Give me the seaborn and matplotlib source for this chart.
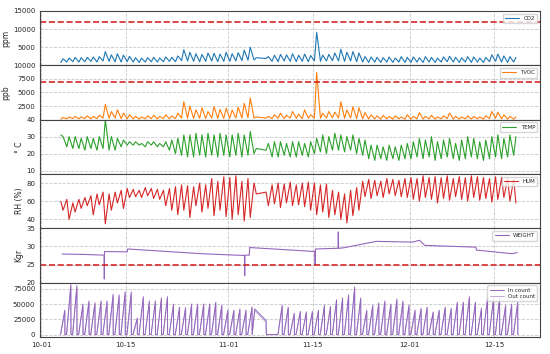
import matplotlib
matplotlib.use('Agg')
import matplotlib.pyplot as plt
import matplotlib.dates as mdates
import numpy as np
import pandas as pd
import seaborn as sns

# days with sensor data (Nov 6 missing -> straight line across the gap)
oct_days = pd.date_range('2019-10-04', '2019-10-31')
nov_days = [d for d in pd.date_range('2019-11-01', '2019-11-30') if d != pd.Timestamp('2019-11-06')]
dec_days = pd.date_range('2019-12-01', '2019-12-18')
days = list(oct_days) + list(nov_days) + list(dec_days)

# CO2 (ppm): morning low / afternoon high, Oct | Nov 1-5 | Nov 7-30 | Dec
co2_low = ([800, 900, 1000, 900, 1000, 1100, 900, 1200, 1100, 1000, 900, 1000, 900, 800,
            900, 1000, 900, 1000, 1100, 1000, 1300, 1200, 1100, 1000, 1100, 1200, 1000, 1100]
           + [1100, 1200, 1300, 1400, 1500]
           + [1900, 1100, 1000, 1200, 1100, 1000, 1100, 1000, 1200, 1100, 1200, 1300,
              1200, 1100, 1200, 1000, 900, 800, 900, 800, 900, 800, 900, 800]
           + [800, 900, 800, 900, 800, 900, 1000, 900, 800, 900, 800, 900, 800, 1000, 1100, 900, 800, 900])
co2_high = ([1800, 2000, 2200, 2100, 2200, 2300, 2400, 3800, 2900, 3200, 2800, 2500, 2100, 2000,
             2100, 2200, 2000, 2300, 2200, 2600, 4300, 3600, 3200, 3000, 3400, 3300, 3100, 3600]
            + [3200, 3500, 4200, 5000, 2100]
            + [2400, 2800, 3000, 2900, 3200, 2800, 3100, 2700, 9100, 2800, 3000, 3400,
               4400, 3600, 3800, 3400, 2400, 2300, 2200, 2100, 2300, 2000, 2400, 2200]
            + [2300, 2100, 2400, 2200, 2000, 2300, 2500, 2200, 2100, 2400, 2300, 2000, 2200, 2900, 3100, 2600, 2400, 2200])

# TVOC (ppb)
tvoc_low = ([100, 150, 200, 150, 200, 150, 200, 300, 250, 300, 200, 150, 150, 100,
             150, 200, 150, 200, 150, 200, 300, 250, 200, 250, 200, 300, 250, 200]
            + [250, 300, 300, 350, 300]
            + [300, 200, 250, 200, 300, 250, 200, 250, 300, 250, 300, 350,
               300, 250, 300, 200, 150, 100, 150, 100, 150, 100, 150, 100]
            + [100, 150, 100, 150, 100, 150, 200, 100, 100, 150, 100, 150, 100, 200, 250, 150, 100, 100])
tvoc_high = ([400, 500, 600, 500, 700, 600, 800, 2800, 1500, 1800, 1200, 900, 600, 500,
              700, 800, 600, 900, 700, 1200, 3300, 2500, 1800, 2200, 1500, 2400, 1900, 2100]
             + [1800, 2300, 3000, 4000, 500]
             + [600, 900, 1200, 800, 1500, 1000, 1800, 900, 8700, 1200, 1500, 1400,
                3300, 1800, 2400, 2200, 1300, 900, 700, 800, 600, 700, 500, 900]
             + [600, 1300, 600, 800, 500, 700, 1200, 600, 500, 700, 600, 500, 700, 1500, 1400, 900, 600, 500])

# TEMP (deg C)
temp_morning = ([31, 24, 23, 23, 22, 23, 22, 23, 22, 22, 24, 25, 25, 25,
                 24, 25, 24, 24, 22, 20, 19, 18, 18, 19, 18, 19, 18, 19]
                + [18, 19, 18, 19, 20]
                + [22, 18, 18, 19, 18, 18, 19, 18, 20, 21, 20, 22,
                   22, 21, 22, 20, 19, 17, 16, 17, 16, 17, 16, 17]
                + [17, 18, 17, 18, 16, 17, 18, 17, 16, 17, 18, 17, 16, 17, 18, 17, 18, 19])
temp_afternoon = ([30, 30, 30, 29, 30, 29, 30, 40, 30, 29, 28, 27, 27, 26,
                   27, 27, 26, 27, 28, 29, 31, 31, 32, 31, 32, 31, 32, 31]
                  + [31, 32, 31, 33, 23]
                  + [26, 27, 27, 26, 27, 27, 26, 27, 29, 31, 30, 32,
                     31, 30, 31, 29, 28, 25, 25, 24, 25, 24, 25, 26]
                  + [27, 29, 28, 30, 27, 28, 29, 26, 28, 30, 29, 27, 28, 30, 31, 29, 31, 30])

# HUM (RH %)
hum_morning = ([60, 62, 58, 62, 64, 66, 68, 70, 68, 70, 72, 74, 73, 72,
                75, 74, 73, 72, 74, 76, 78, 77, 76, 80, 78, 85, 82, 87]
               + [86, 88, 82, 85, 80]
               + [70, 78, 80, 79, 81, 78, 80, 81, 80, 78, 79, 72,
                  70, 68, 72, 75, 82, 84, 83, 82, 85, 84, 83, 85]
               + [86, 85, 88, 86, 87, 86, 88, 85, 87, 86, 88, 87, 86, 85, 87, 86, 85, 84])
hum_afternoon = ([50, 40, 48, 52, 55, 45, 56, 35, 50, 58, 52, 64, 65, 64,
                  66, 63, 62, 55, 50, 45, 50, 42, 55, 48, 52, 44, 50, 43]
                 + [40, 45, 38, 42, 68]
                 + [55, 57, 53, 58, 55, 56, 54, 50, 45, 48, 42, 45,
                    40, 36, 44, 50, 65, 63, 66, 64, 68, 66, 65, 64]
                 + [62, 60, 64, 62, 58, 63, 61, 65, 62, 60, 64, 61, 63, 59, 62, 64, 60, 58])

# WEIGHT (Kgr) breakpoints
weight_times = ['2019-10-04 12:00', '2019-10-08 00:00', '2019-10-11 10:00', '2019-10-11 11:00',
                '2019-10-11 12:00', '2019-10-15 06:00', '2019-10-15 08:00', '2019-10-27 12:00',
                '2019-11-03 16:00', '2019-11-03 17:00', '2019-11-03 18:00', '2019-11-04 11:00',
                '2019-11-04 13:00', '2019-11-15 08:00', '2019-11-15 09:00', '2019-11-15 10:00',
                '2019-11-19 04:00', '2019-11-19 05:00', '2019-11-19 06:00', '2019-11-20 00:00',
                '2019-11-25 12:00', '2019-12-01 12:00', '2019-12-02 16:00', '2019-12-03 12:00',
                '2019-12-12 00:00', '2019-12-12 02:00', '2019-12-18 00:00', '2019-12-18 20:00']
weight_vals = [27.9, 27.8, 27.6, 21.0, 28.6, 28.5, 29.3, 28.0, 27.5, 22.0, 27.6, 27.6,
               29.7, 28.6, 25.0, 29.3, 29.5, 34.0, 29.5, 29.6, 31.4, 31.2, 31.7, 30.3,
               29.8, 29.0, 28.0, 28.3]

# people counter: daily peak (counter resets each night)
count_days = (list(pd.date_range('2019-10-04', '2019-11-04'))
              + list(pd.date_range('2019-11-09', '2019-12-18')))
in_peaks = ([40000, 82000, 80000, 50000, 55000, 52000, 55000, 55000, 66000, 65000, 70000, 70000, 27000, 62000,
             55000, 55000, 60000, 62000, 50000, 45000, 44000, 50000, 50000, 50000, 50000, 53000, 48000, 40000]
            + [40000, 42000, 40000, 45000]
            + [48000, 45000, 35000, 38000, 37000, 38000, 40000, 48000, 46000, 57000, 60000,
               65000, 78000, 60000, 40000, 48000, 52000, 55000, 50000, 58000, 55000, 48000]
            + [40000, 43000, 45000, 37000, 40000, 45000, 43000, 53000, 53000, 62000, 53000,
               43000, 60000, 60000, 60000, 48000, 50000, 53000])
out_peaks = ([38000, 78000, 77000, 48000, 52000, 50000, 53000, 52000, 63000, 62000, 67000, 66000, 25000, 59000,
              52000, 53000, 57000, 59000, 48000, 43000, 42000, 47000, 48000, 47000, 48000, 50000, 46000, 38000]
             + [38000, 40000, 38000, 43000]
             + [46000, 43000, 33000, 36000, 35000, 36000, 38000, 46000, 44000, 54000, 57000,
                62000, 74000, 57000, 38000, 46000, 49000, 52000, 48000, 55000, 52000, 46000]
             + [38000, 41000, 43000, 35000, 38000, 43000, 41000, 50000, 51000, 59000, 50000,
                41000, 57000, 57000, 57000, 46000, 48000, 50000])
# counter kept running through the outage
gap_times = ['2019-11-05 09:00', '2019-11-07 06:00', '2019-11-07 07:00']
gap_in = [42000, 23000, 0]
gap_out = [39000, 20000, 0]

CO2_LIMIT = 12000
TVOC_LIMIT = 7000
WEIGHT_LIMIT = 25


def daily_frame(first, second):
    t = [d + pd.Timedelta(hours=6) for d in days] + [d + pd.Timedelta(hours=15) for d in days]
    return pd.DataFrame({'time': t, 'value': list(first) + list(second)}).sort_values('time')


def count_frame(peaks, g_vals, name):
    t, v = [], []
    for d, p in zip(count_days, peaks):
        t += [d + pd.Timedelta(hours=5), d + pd.Timedelta(hours=22), d + pd.Timedelta(hours=22, minutes=30)]
        v += [0, p, 0]
    t += list(pd.to_datetime(gap_times))
    v += g_vals
    df = pd.DataFrame({'time': t, 'value': v, 'series': name})
    return df.sort_values('time')


sns.set_style('white')
plt.rcParams['font.family'] = ['DejaVu Sans']

fig, axes = plt.subplots(6, 1, sharex=True, figsize=(5.5, 3.54), dpi=100)
fig.subplots_adjust(left=0.073, right=0.982, top=0.969, bottom=0.048, hspace=0)

panels = [
    (daily_frame(co2_low, co2_high), 'CO2', '#1f77b4', 'ppm', (0, 15000), [5000, 10000, 15000], CO2_LIMIT),
    (daily_frame(tvoc_low, tvoc_high), 'TVOC', '#ff7f0e', 'ppb', (0, 10000), [2500, 5000, 7500, 10000], TVOC_LIMIT),
    (daily_frame(temp_morning, temp_afternoon), 'TEMP', '#2ca02c', '° C', (8, 40), [10, 20, 30, 40], None),
    (daily_frame(hum_morning, hum_afternoon), 'HUM', '#d62728', 'RH (%)', (30, 90), [40, 60, 80], None),
    (pd.DataFrame({'time': pd.to_datetime(weight_times), 'value': weight_vals}), 'WEIGHT', '#9467bd',
     'Kgr', (20, 35), [20, 25, 30, 35], WEIGHT_LIMIT),
]

for ax, (df, name, color, unit, ylim, ticks, limit) in zip(axes, panels):
    sns.lineplot(data=df, x='time', y='value', ax=ax, color=color, linewidth=0.8,
                 label=name, estimator=None)
    if limit is not None:
        ax.axhline(limit, color='#d62728', linestyle='--', linewidth=1.2)
    ax.set_ylim(*ylim)
    ax.set_yticks(ticks)
    ax.set_ylabel(unit, fontsize=5.5, labelpad=2)

counts = pd.concat([count_frame(out_peaks, gap_out, 'Out count'),
                    count_frame(in_peaks, gap_in, 'In count')])
sns.lineplot(data=counts, x='time', y='value', hue='series', ax=axes[5], estimator=None,
             hue_order=['Out count', 'In count'],
             palette={'In count': '#9467bd', 'Out count': '#c0acd9'}, linewidth=0.7)
axes[5].set_ylim(-4000, 85000)
axes[5].set_yticks([0, 25000, 50000, 75000])
axes[5].set_ylabel('')

for ax in axes:
    ax.grid(True, linestyle='--', color='#c8c8c8', linewidth=0.6)
    ax.tick_params(axis='both', labelsize=5, length=2, pad=1.5)
    ax.set_xlabel('')
    for s in ax.spines.values():
        s.set_color('#444444')
        s.set_linewidth(0.8)
    handles, labels = ax.get_legend_handles_labels()
    if labels[:2] == ['Out count', 'In count']:
        handles, labels = handles[::-1], labels[::-1]
    ax.legend(handles, labels, loc='upper right', fontsize=4, frameon=True, handlelength=2.5,
              borderpad=0.4, labelspacing=0.2)

axes[5].set_xlim(pd.Timestamp('2019-09-30 20:00'), pd.Timestamp('2019-12-22 15:00'))
axes[5].xaxis.set_major_locator(mdates.DayLocator(bymonthday=[1, 15]))
axes[5].xaxis.set_major_formatter(mdates.DateFormatter('%m-%d'))

fig.savefig('out.png', dpi=100)
